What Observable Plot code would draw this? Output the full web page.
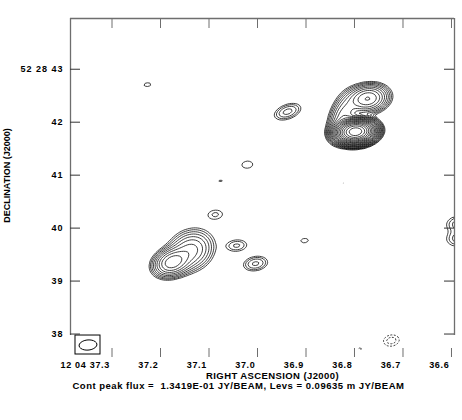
<!DOCTYPE html>
<html><head><meta charset="utf-8">
<script src="https://cdn.jsdelivr.net/npm/d3@7"></script>
<script src="https://cdn.jsdelivr.net/npm/@observablehq/plot@0.6"></script>
<style>
html,body{margin:0;padding:0;background:#fff;}
#chart{width:462px;height:420px;}
</style></head><body><div id="chart"></div>
<script>
// ---- axis ticks (RA seconds of 12h04m, Dec arcsec of +52d28m) ----
const raTicks = [37.3, 37.2, 37.1, 37.0, 36.9, 36.8, 36.7, 36.6];
const raTickLabels = ["12 04 37.3", "37.2", "37.1", "37.0", "36.9", "36.8", "36.7", "36.6"];
const decTicks = [43, 42, 41, 40, 39, 38];
const decTickLabels = ["52 28 43", "42", "41", "40", "39", "38"];
const xTitle = "RIGHT ASCENSION (J2000)";
const yTitle = "DECLINATION (J2000)";
const caption = "Cont peak flux =  1.3419E-01 JY/BEAM, Levs = 0.09635 m JY/BEAM";

// ---- field limits ----
const raLimits = [37.3856, 36.5938];
const decLimits = [37.557, 43.958];

// ---- emission components read from the map (Gaussian fits, estimated) ----
const compName = ["core", "north", "bridge", "SE-peak", "SE-ext", "s1", "s2", "s3", "s4", "s5", "s6", "s7", "s8", "s9", "edge1", "edge2", "neg1", "neg2"];
const compRA   = [36.798, 36.773, 36.823, 37.177, 37.138, 37.227, 36.938, 37.021, 37.076, 37.087, 37.043, 37.004, 36.903, 36.823, 36.584, 36.584, 36.724, 36.788];
const compDec  = [41.821, 42.443, 42.100, 39.349, 39.575, 42.708, 42.198, 41.198, 40.896, 40.255, 39.670, 39.330, 39.764, 40.840, 40.085, 39.802, 37.877, 37.726];
const compPeak = [134.19, 4.5, 2.0, 3.8, 1.8, 0.215, 0.63, 0.25, 0.20, 0.30, 0.42, 0.60, 0.22, 0.195, 0.50, 0.50, -0.33, -0.20]; // mJy/beam
const compMaj  = [0.36, 0.45, 0.55, 0.42, 0.55, 0.34, 0.40, 0.34, 0.34, 0.34, 0.36, 0.36, 0.34, 0.34, 0.40, 0.40, 0.34, 0.30]; // arcsec FWHM
const compMin  = [0.22, 0.30, 0.30, 0.30, 0.45, 0.19, 0.21, 0.22, 0.19, 0.21, 0.20, 0.21, 0.19, 0.19, 0.25, 0.25, 0.24, 0.18];
const compPA   = [95, 100, 160, 110, 120, 95, 110, 95, 95, 95, 95, 100, 95, 95, 95, 95, 100, 95]; // deg E of N

// ---- contour levels ----
const levelBase = 0.09635; // mJy/beam
const posLevels = [2, 2.83, 4, 5.66, 8, 11.3, 16, 22.6, 32, 45.3, 64, 90.5, 128, 181, 256, 362, 512, 724, 1024];
const negLevels = [-2, -2.83];

// ---- restoring beam ----
const beamMaj = 0.34, beamMin = 0.19, beamPA = 95;

const arcPerSec = 15 * Math.cos((52 + 28 / 60 + 41 / 3600) * Math.PI / 180);
function gauss(ra, dec, ra0, dec0, peak, maj, min, pa) {
  const dx = (ra - ra0) * arcPerSec, dy = dec - dec0, t = pa * Math.PI / 180;
  const u = dx * Math.sin(t) + dy * Math.cos(t);
  const v = dx * Math.cos(t) - dy * Math.sin(t);
  return peak * Math.exp(-4 * Math.LN2 * (u * u / (maj * maj) + v * v / (min * min)));
}
function sky(ra, dec) {
  let s = 0;
  for (let i = 0; i < compRA.length; i++) s += gauss(ra, dec, compRA[i], compDec[i], compPeak[i], compMaj[i], compMin[i], compPA[i]);
  return s;
}

// beam box in the lower-left corner (layout, in data units)
const boxW = 25 / 485, boxH = 19 / 53;
const bx1 = raLimits[0] - 5 / 485, bx2 = bx1 - boxW;
const by1 = decLimits[0] + 3 / 53, by2 = by1 + boxH;
const bRA = (bx1 + bx2) / 2, bDec = (by1 + by2) / 2;

const W = 462, H = 420, mL = 70, mR = 8, mT = 18, mB = 63;
const innerW = W - mL - mR, innerH = H - mT - mB;
const frameColor = "#6e6e6e";
const font = "'Liberation Sans', Arial, sans-serif";

const chart = Plot.plot({
  width: W, height: H,
  marginLeft: mL, marginRight: mR, marginTop: mT, marginBottom: mB,
  x: {domain: raLimits, axis: null},
  y: {domain: decLimits, axis: null},
  style: {fontFamily: font, fontWeight: "bold", fontSize: "9px", background: "white", color: "black"},
  marks: [
    Plot.contour({
      x1: raLimits[0], x2: raLimits[1], y1: decLimits[0], y2: decLimits[1],
      value: sky, thresholds: posLevels.map(m => m * levelBase),
      fill: "none", stroke: "black", strokeWidth: 0.75
    }),
    Plot.contour({
      x1: raLimits[0], x2: raLimits[1], y1: decLimits[0], y2: decLimits[1],
      value: (x, y) => -sky(x, y), thresholds: negLevels.map(m => -m * levelBase),
      fill: "none", stroke: "black", strokeWidth: 0.75, strokeDasharray: "2,1.5"
    }),
    // beam
    Plot.rect([0], {x1: bx1, x2: bx2, y1: by1, y2: by2, fill: "none", stroke: "black", strokeWidth: 1}),
    Plot.contour({
      x1: bx1, x2: bx2, y1: by1, y2: by2,
      value: (x, y) => gauss(x, y, bRA, bDec, 1, beamMaj, beamMin, beamPA), thresholds: [0.5],
      fill: "none", stroke: "black", strokeWidth: 1
    }),
    // frame
    Plot.ruleY([decLimits[1]], {stroke: frameColor, strokeWidth: 1.3}),
    Plot.ruleX(raLimits, {stroke: frameColor, strokeWidth: 1.3, insetBottom: 22}),
    // ticks
    Plot.ruleX(raTicks, {stroke: frameColor, insetTop: innerH - 9}),
    Plot.ruleX(raTicks, {stroke: frameColor, insetBottom: innerH - 10}),
    Plot.ruleY(decTicks, {stroke: "#333", insetRight: innerW - 10}),
    Plot.ruleY(decTicks, {stroke: "#333", insetLeft: innerW - 10}),
    // tick labels
    Plot.text(raTicks, {x: d => d, text: (d, i) => raTickLabels[i], frameAnchor: "bottom", dy: 8, dx: -2, textAnchor: "end", lineAnchor: "middle", fontSize: 9, fontWeight: "bold"}),
    Plot.text(decTicks, {y: d => d, text: (d, i) => decTickLabels[i], frameAnchor: "left", dx: -7, textAnchor: "end", lineAnchor: "middle", fontSize: 9, fontWeight: "bold"}),
    // axis titles and caption
    Plot.text([xTitle], {text: d => d, frameAnchor: "bottom", dx: 10, dy: 18, textAnchor: "middle", lineAnchor: "middle", fontSize: 9.5, fontWeight: "bold"}),
    Plot.text([yTitle], {text: d => d, frameAnchor: "left", dx: -63.5, dy: -12.5, rotate: -90, textAnchor: "middle", lineAnchor: "middle", fontSize: 9, fontWeight: "bold"}),
    Plot.text([caption], {text: d => d, frameAnchor: "bottom-left", dx: 2, dy: 28, textAnchor: "start", lineAnchor: "middle", fontSize: 9.5, fontWeight: "bold"})
  ]
});
// wider letter spacing like the original plotting font
d3.select(chart).selectAll("text").each(function () {
  const t = this.textContent;
  let ls = null;
  if (raTickLabels.includes(t)) ls = "0.7px";
  else if (decTickLabels.includes(t)) ls = "1px";
  else if (t === xTitle) ls = "0.4px";
  else if (t === caption) ls = "0.5px";
  if (ls) this.setAttribute("letter-spacing", ls);
  this.setAttribute("xml:space", "preserve");
  this.style.whiteSpace = "pre";
});
document.getElementById("chart").appendChild(chart);
</script></body></html>
